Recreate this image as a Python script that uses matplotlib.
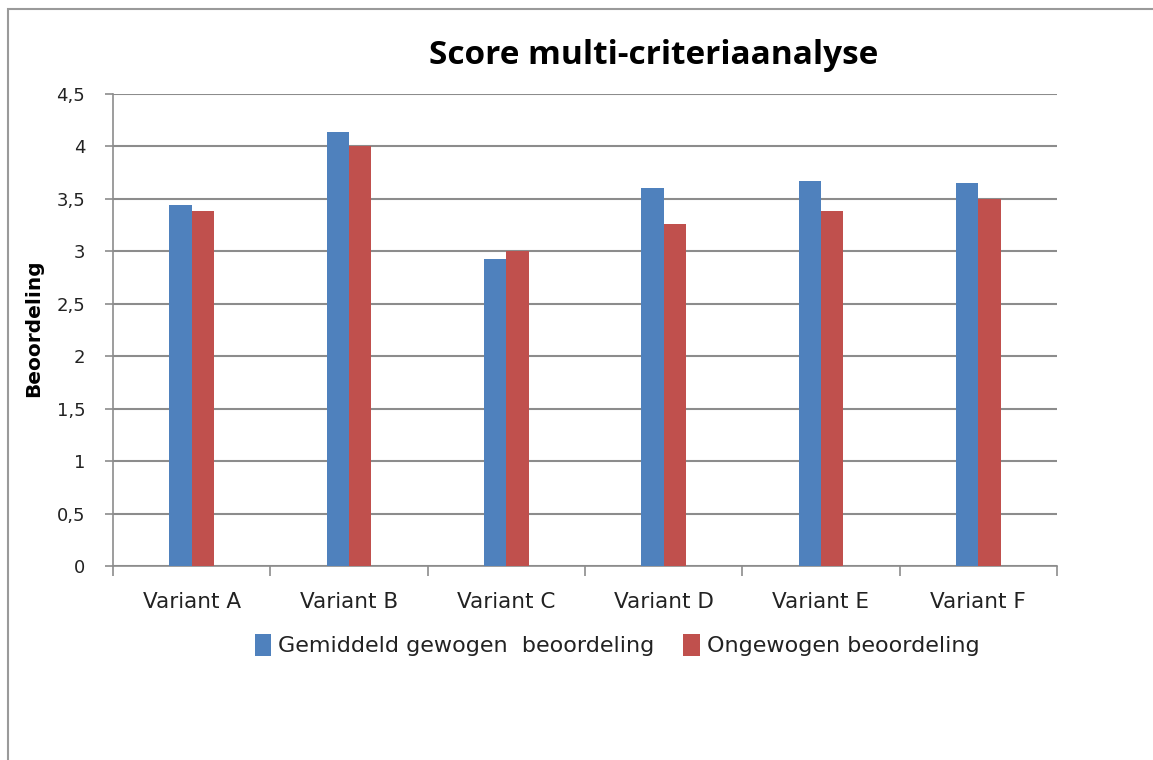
import numpy as np
import matplotlib.pyplot as plt
from matplotlib.patches import Rectangle

# scores per variant
variants = ["Variant A", "Variant B", "Variant C", "Variant D", "Variant E", "Variant F"]
gewogen = [3.44, 4.14, 2.93, 3.60, 3.67, 3.65]
ongewogen = [3.38, 4.00, 3.00, 3.26, 3.38, 3.50]
yticks = [0, 0.5, 1, 1.5, 2, 2.5, 3, 3.5, 4, 4.5]
ytick_labels = ["0", "0,5", "1", "1,5", "2", "2,5", "3", "3,5", "4", "4,5"]

blue = "#4F81BD"
red = "#C0504D"
grid_grey = "#8C8C8C"

plt.rcParams["font.family"] = ["DejaVu Sans"]

fig = plt.figure(figsize=(11.53, 7.6), dpi=100)
W, H = 1153, 760
ax = fig.add_axes([113 / W, 1 - 566 / H, (1057 - 113) / W, (566 - 94) / H])

# outer chart frame (left/top edges visible)
fig.patches.append(Rectangle((8 / W, -0.1), 1.2, 1 - 9 / H + 0.1, transform=fig.transFigure,
                             fill=False, edgecolor="#9A9A9A", linewidth=1.5))

x = np.arange(len(variants))
bw = 0.143
ax.bar(x - bw / 2, gewogen, bw, color=blue, label="Gemiddeld gewogen  beoordeling", zorder=3)
ax.bar(x + bw / 2, ongewogen, bw, color=red, label="Ongewogen beoordeling", zorder=3)

ax.set_xlim(-0.5, len(variants) - 0.5)
ax.set_ylim(0, 4.5)
ax.set_yticks(yticks)
ax.set_yticklabels(ytick_labels, fontsize=13, color="#222222")
ax.yaxis.grid(True, color=grid_grey, linewidth=1.5, zorder=0)

# category labels centered, tick marks on category boundaries
ax.set_xticks(x)
ax.set_xticklabels(variants, fontsize=15.5, color="#222222")
ax.tick_params(axis="x", length=0, pad=19)
ax.set_xticks(np.arange(-0.5, len(variants)), minor=True)
ax.tick_params(axis="x", which="minor", length=7, color=grid_grey, width=1.2)
ax.tick_params(axis="y", length=6, color=grid_grey, width=1.2, pad=14)

for side in ["top", "right"]:
    ax.spines[side].set_visible(False)
ax.spines["left"].set_color(grid_grey)
ax.spines["bottom"].set_color(grid_grey)
ax.spines["left"].set_linewidth(1.2)
ax.spines["bottom"].set_linewidth(1.2)

ax.set_ylabel("Beoordeling", fontsize=14.5, fontweight="bold")
ax.yaxis.set_label_coords(-(113 - 43) / (1057 - 113), (566 - 328) / (566 - 94))
fig.text(654 / W, 1 - 56 / H, "Score multi-criteriaanalyse", ha="center", va="center",
         fontsize=24, fontweight="bold", family="Open Sans")

fig.legend(loc="center", bbox_to_anchor=(617 / W, 1 - 645 / H), ncol=2, frameon=False,
           fontsize=16, handlelength=0.75, handleheight=1.15, handletextpad=0.3,
           columnspacing=1.3, labelcolor="#222222")

fig.savefig("out.png", dpi=100)
